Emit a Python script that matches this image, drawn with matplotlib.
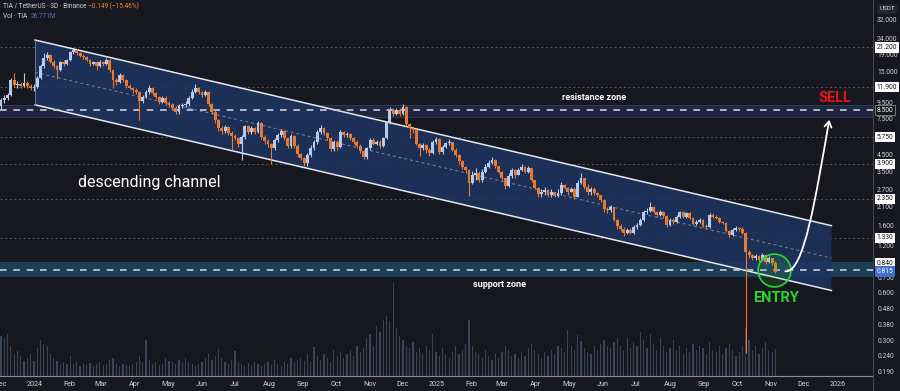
import numpy as np
import pandas as pd
import matplotlib
matplotlib.use("Agg")
import matplotlib.pyplot as plt
import matplotlib.dates as mdates
from matplotlib.path import Path
from matplotlib.patches import Polygon, FancyArrowPatch
from matplotlib.ticker import FixedLocator, NullLocator, FuncFormatter
from matplotlib.transforms import blended_transform_factory

plt.rcParams['font.family'] = ['Roboto', 'DejaVu Sans']

# --- 3D candles TIA/USDT ---
first_open = 9.0
closes = [
    9.90, 10.19, 10.63, 13.20, 12.30, 12.48, 12.12, 12.66, 12.12, 11.78,
    11.95, 13.59, 16.16, 18.10, 19.00, 17.15, 16.16, 15.30, 17.15, 16.65,
    17.65, 19.84, 20.40, 19.55, 18.73, 18.46, 17.65, 16.65, 17.15, 16.16,
    17.15, 16.65, 17.65, 15.30, 13.20, 12.82, 14.20, 13.20, 12.12, 11.78,
    11.40, 11.08, 9.76, 10.33, 11.08, 11.78, 10.92, 10.33, 9.62, 10.19,
    9.48, 9.20, 8.80, 8.30, 9.07, 9.20, 9.34, 10.19, 11.08, 11.78,
    11.08, 10.63, 11.08, 9.34, 8.30, 7.39, 6.58, 6.30, 6.68, 6.12,
    5.85, 5.69, 5.22, 5.77, 6.78, 6.21, 6.58, 6.21, 7.07, 5.77,
    5.45, 5.22, 4.92, 5.53, 5.94, 6.30, 5.69, 5.07, 5.85, 5.07,
    4.51, 4.25, 3.96, 4.45, 4.92, 5.37, 6.21, 6.58, 6.12, 5.69,
    4.85, 5.37, 4.99, 6.21, 5.94, 6.03, 5.69, 5.37, 5.07, 4.71,
    4.32, 4.92, 5.53, 5.22, 5.37, 5.07, 5.69, 7.18, 8.54, 8.07,
    8.54, 8.07, 8.93, 6.97, 6.58, 6.39, 5.22, 4.92, 5.14, 4.78,
    4.58, 5.37, 5.61, 4.64, 4.99, 5.29, 5.37, 4.78, 4.45, 4.07,
    3.74, 3.58, 2.97, 3.33, 3.43, 3.09, 3.48, 3.74, 3.96, 4.13,
    3.79, 3.48, 3.18, 2.84, 3.28, 3.58, 3.33, 3.58, 3.74, 3.48,
    3.69, 3.09, 2.76, 2.53, 2.60, 2.68, 2.49, 2.60, 2.46, 2.56,
    2.88, 2.76, 2.60, 2.72, 2.42, 2.97, 3.18, 2.80, 2.60, 2.72,
    2.56, 2.49, 2.31, 2.03, 2.00, 2.09, 1.73, 1.58, 1.52, 1.43,
    1.50, 1.43, 1.56, 1.61, 1.73, 1.94, 1.97, 2.09, 1.94, 1.86,
    1.94, 1.83, 1.61, 1.73, 1.68, 1.81, 1.94, 1.81, 1.91, 1.78,
    1.63, 1.68, 1.73, 1.58, 1.56, 1.86, 1.81, 1.78, 1.68, 1.66,
    1.48, 1.39, 1.50, 1.54, 1.52, 1.43, 1.09, 1.04, 0.995, 1.025,
    0.97, 1.04, 0.94, 0.995, 0.93, 0.815,
]
highs = [
    10.2, 10.6, 11.0, 13.6, 14.6, 13.0, 12.9, 14.6, 13.0, 12.5,
    12.4, 14.0, 16.6, 19.4, 19.8, 19.3, 17.6, 16.5, 17.5, 17.6,
    18.0, 20.2, 20.9, 20.7, 19.9, 19.2, 18.8, 18.0, 17.5, 17.4,
    17.6, 17.4, 18.2, 18.0, 15.5, 13.6, 14.6, 14.5, 13.4, 12.4,
    12.0, 11.7, 11.3, 10.6, 11.4, 12.2, 12.0, 11.1, 10.5, 10.5,
    10.4, 9.7, 9.4, 9.0, 9.3, 9.5, 9.7, 10.5, 11.5, 12.4,
    12.0, 11.3, 11.4, 11.2, 9.5, 8.5, 7.5, 6.8, 6.9, 6.8,
    6.3, 6.0, 5.8, 5.9, 6.9, 6.9, 6.8, 6.7, 7.3, 7.2,
    5.9, 5.6, 5.3, 5.7, 6.1, 6.5, 6.4, 5.8, 6.0, 5.9,
    5.2, 4.6, 4.3, 4.6, 5.1, 5.5, 6.4, 6.9, 6.7, 6.2,
    5.8, 5.5, 5.5, 6.4, 6.3, 6.2, 6.1, 5.8, 5.5, 5.2,
    4.8, 5.0, 5.7, 5.7, 5.5, 5.5, 5.8, 7.3, 8.9, 8.8,
    8.8, 8.8, 9.3, 9.0, 7.1, 6.7, 6.5, 5.3, 5.3, 5.2,
    4.9, 5.5, 5.8, 5.7, 5.1, 5.4, 5.6, 5.4, 4.9, 4.5,
    4.1, 3.8, 3.6, 3.5, 3.7, 3.5, 3.6, 3.9, 4.1, 4.3,
    4.2, 3.8, 3.5, 3.2, 3.4, 3.7, 3.6, 3.7, 3.9, 3.8,
    3.8, 3.7, 3.1, 2.8, 2.7, 2.8, 2.7, 2.7, 2.6, 2.7,
    3.0, 2.9, 2.8, 2.8, 2.8, 3.1, 3.4, 3.2, 2.9, 2.8,
    2.8, 2.6, 2.5, 2.35, 2.1, 2.15, 2.1, 1.75, 1.62, 1.56,
    1.54, 1.53, 1.60, 1.66, 1.78, 2.0, 2.05, 2.25, 2.12, 1.98,
    2.0, 1.97, 1.85, 1.77, 1.78, 1.85, 1.98, 1.96, 1.95, 1.93,
    1.80, 1.72, 1.77, 1.75, 1.62, 1.90, 1.90, 1.85, 1.80, 1.71,
    1.68, 1.50, 1.53, 1.58, 1.57, 1.55, 1.45, 1.12, 1.06, 1.05,
    1.04, 1.07, 1.05, 1.02, 1.00, 0.95,
]
lows = [
    8.6, 9.5, 9.9, 10.4, 11.9, 11.8, 11.7, 11.9, 11.8, 11.4,
    11.3, 11.7, 13.3, 15.8, 17.6, 16.8, 15.6, 13.3, 15.0, 16.2,
    16.3, 17.4, 19.3, 19.1, 18.4, 18.0, 17.3, 16.2, 16.3, 15.3,
    15.9, 16.2, 16.4, 14.8, 11.7, 12.3, 12.6, 12.9, 11.8, 11.5,
    11.0, 10.7, 7.4, 9.4, 10.1, 10.8, 10.6, 10.0, 9.3, 9.4,
    9.2, 8.9, 8.5, 8.0, 8.1, 8.8, 8.9, 9.1, 10.0, 10.9,
    10.8, 10.3, 10.4, 9.1, 8.0, 7.1, 6.3, 6.0, 6.1, 5.9,
    4.8, 5.5, 5.0, 4.1, 5.6, 6.0, 6.0, 6.0, 6.1, 5.6,
    5.2, 5.0, 3.9, 4.8, 5.4, 5.8, 5.5, 4.9, 4.9, 4.9,
    4.3, 4.1, 3.8, 3.8, 4.3, 4.8, 5.2, 6.0, 5.9, 5.5,
    4.7, 4.7, 4.8, 4.9, 5.8, 5.8, 5.5, 5.2, 4.9, 4.6,
    4.2, 4.2, 4.8, 5.1, 5.1, 4.9, 5.0, 5.6, 7.0, 7.8,
    7.9, 7.8, 7.9, 6.8, 5.7, 6.1, 5.1, 4.4, 4.8, 4.6,
    4.4, 4.5, 5.2, 4.5, 4.5, 4.9, 5.1, 4.7, 4.3, 3.9,
    3.6, 3.4, 2.45, 2.9, 3.1, 3.0, 3.0, 3.4, 3.7, 3.9,
    3.7, 3.4, 3.1, 2.7, 2.8, 3.2, 3.2, 3.3, 3.5, 3.4,
    3.4, 3.0, 2.7, 2.4, 2.4, 2.5, 2.4, 2.4, 2.4, 2.4,
    2.5, 2.7, 2.5, 2.6, 2.35, 2.4, 2.9, 2.7, 2.5, 2.5,
    2.5, 2.4, 2.25, 1.95, 1.9, 1.95, 1.7, 1.52, 1.47, 1.36,
    1.40, 1.40, 1.41, 1.52, 1.58, 1.70, 1.88, 1.93, 1.90, 1.80,
    1.82, 1.78, 1.57, 1.58, 1.64, 1.65, 1.78, 1.77, 1.78, 1.74,
    1.60, 1.60, 1.65, 1.55, 1.52, 1.54, 1.77, 1.74, 1.65, 1.62,
    1.45, 1.35, 1.37, 1.47, 1.48, 1.41, 0.25, 0.99, 0.96, 0.97,
    0.94, 0.95, 0.91, 0.92, 0.90, 0.80,
]
volumes = [
    40, 38, 42, 30, 22, 25, 20, 15, 18, 22, 15,
    28, 36, 32, 30, 22, 18, 15, 12, 14, 12, 20,
    12, 14, 10, 12, 11, 13, 10, 12, 14, 11, 12, 16, 18, 12, 10, 12, 11, 10, 12, 14, 20,
    14, 36, 16, 12, 14, 11, 12, 18, 15, 14, 12, 16, 14, 18, 14, 12, 10, 12,
    14, 18, 22, 16, 20, 27, 18, 14, 12, 16, 25, 14, 12, 10, 13, 11, 14, 12, 10, 12,
    14, 11, 16, 12, 10, 14, 12, 18, 14, 16,
    18, 15, 22, 14, 29, 20, 16, 22, 18, 14, 26, 20, 24, 18, 22, 26, 20, 30, 24, 28,
    38, 42, 30, 50, 44, 56, 60, 55, 93, 48, 40,
    36, 30, 28, 34, 24, 28, 22, 30, 26, 42, 24, 20, 28, 22, 18, 24, 30, 22, 26, 32, 56,
    30, 24, 22, 18, 26, 20, 16, 22, 18, 24, 30, 26, 20, 22, 18, 24, 20, 28, 32, 26,
    22, 18, 24, 20, 26, 22, 30,
    28, 24, 46, 30, 26, 41, 35, 28, 24, 22, 30, 26, 32, 36, 30, 28, 34, 38,
    30, 26, 38, 28, 34, 30, 44, 36, 28, 42, 32, 26, 38, 30, 24, 28, 36, 26, 30, 22,
    28, 24, 32, 26, 30,
    28, 22, 34, 26, 24, 30, 22, 28, 32, 26, 20, 24, 30, 48, 36, 26, 30, 22, 28, 34,
    26, 24, 26.8,
]

# levels drawn on the chart
level_lines = [21.2, 11.9, 5.75, 3.9, 2.35, 1.33]
resistance = (7.72, 9.19, 8.5)
support = (0.757, 0.94, 0.84)
last_price = 0.815
price_ticks = [32, 24, 19, 15, 9.5, 7.5, 4.5, 3.5, 2.7, 2.1, 1.6, 1.2,
               0.75, 0.6, 0.48, 0.38, 0.3, 0.24, 0.19]

# descending channel anchors
ch_dates = ["2024-01-01", "2025-12-26"]
ch_upper = [23.6, 1.59]
ch_lower = [9.2, 0.62]

BG = "#17171f"
BULL = "#b4cbee"
BEAR = "#e8792e"
TXT = "#cfd2dc"

dates = pd.date_range("2023-12-01", periods=len(closes), freq="3D")
x = mdates.date2num(dates)
c = np.array(closes)
o = np.array([first_open] + closes[:-1])
h = np.array(highs)
l = np.array(lows)
up = c >= o
cols = np.where(up, BULL, BEAR)

fig = plt.figure(figsize=(9, 3.91), dpi=100, facecolor=BG)
pos = [0, 15 / 391, 873 / 900, 376 / 391]
ax = fig.add_axes(pos)
vax = fig.add_axes(pos, sharex=ax)
vax.set_zorder(0)
ax.set_zorder(1)
vax.set_facecolor(BG)
ax.set_facecolor("none")

# volume
vax.bar(x, volumes, width=1.1, color="#4a5a74", alpha=0.7, linewidth=0)
vax.set_ylim(0, max(volumes) * 4.05)
vax.axis("off")

ax.set_yscale("log")
x0 = mdates.date2num(pd.Timestamp("2024-01-01"))
ax.set_xlim(x0 - 31.9, x0 + 762.8)
ax.set_ylim(0.179, 42.2)

# zones
ax.axhspan(resistance[0], resistance[1], color="#1f2a44", alpha=0.8, lw=0, zorder=1)
for v in resistance[:2]:
    ax.axhline(v, color="#34405c", lw=0.6, zorder=1)
ax.axhspan(support[0], support[1], color="#1b4a66", alpha=0.8, lw=0, zorder=1)
ax.axhline(resistance[2], color="#c9ccd6", lw=1.2, ls=(0, (4, 4)), zorder=5)
ax.axhline(support[2], color="#c9ccd6", lw=1.2, ls=(0, (4, 4)), zorder=5)
for v in level_lines:
    ax.axhline(v, color="#5e6070", lw=0.6, ls=(0, (2.5, 3)), zorder=1)

# channel
cx = mdates.date2num(pd.to_datetime(ch_dates))
poly = Polygon([(cx[0], ch_upper[0]), (cx[1], ch_upper[1]),
                (cx[1], ch_lower[1]), (cx[0], ch_lower[0])],
               closed=True, fc="#1d3460", ec="none", alpha=0.85, zorder=2)
ax.add_patch(poly)
ax.plot(cx, ch_upper, color="#e6e8ee", lw=1.1, zorder=4)
ax.plot(cx, ch_lower, color="#e6e8ee", lw=1.1, zorder=4)
ax.plot([cx[0], cx[0]], [ch_lower[0], ch_upper[0]], color="#7d8598", lw=0.6, zorder=4)
mid = np.sqrt(np.array(ch_upper) * np.array(ch_lower))
ax.plot(cx, mid, color="#7d8598", lw=0.7, ls=(0, (3, 3)), zorder=4)

# candles
ax.vlines(x, l, h, colors=cols, lw=0.8, zorder=6)
body_lo = np.minimum(o, c)
body_h = np.maximum(np.abs(c - o), c * 0.008)
ax.bar(x, body_h, bottom=body_lo, width=2.6, color=cols, lw=0, zorder=7)

# axes styling
for s in ["top", "left"]:
    ax.spines[s].set_visible(False)
ax.spines["right"].set_color("#44444e")
ax.spines["bottom"].set_color("#8a8a94")
ax.spines["bottom"].set_linewidth(0.8)
ax.yaxis.tick_right()
ax.yaxis.set_major_locator(FixedLocator(price_ticks))
ax.yaxis.set_minor_locator(NullLocator())
ax.yaxis.set_major_formatter(FuncFormatter(lambda v, p: f"{v:.3f}"))
ax.tick_params(axis="y", length=0, pad=3, labelsize=4.9, labelcolor=TXT)

months = pd.date_range("2023-12-01", "2026-01-01", freq="MS")
mlabels = [str(d.year) if d.month == 1 else d.strftime("%b") for d in months]
ax.set_xticks(mdates.date2num(months))
ax.set_xticklabels(mlabels)
ax.tick_params(axis="x", length=0, pad=3.5, labelsize=5.2, labelcolor=TXT)
fig.add_artist(plt.Line2D([873 / 900, 873 / 900], [0, 15 / 391], color="#44444e", lw=0.8))

# price tags on the right scale
bt = blended_transform_factory(ax.transAxes, ax.transData)
white_tags = [21.2, 11.9, 5.75, 3.9, 2.35, 1.33, 0.84]
for v in white_tags:
    dy = 4.3 if v == 0.84 else 0
    ax.annotate(f"{v:.3f}", xy=(1, v), xycoords=bt, xytext=(2.5, dy),
                textcoords="offset points", ha="left", va="center",
                fontsize=4.9, color="#111111", annotation_clip=False,
                bbox=dict(boxstyle="square,pad=0.25", fc="white", ec="none"))
ax.annotate(f"{resistance[2]:.3f}", xy=(1, resistance[2]), xycoords=bt, xytext=(2.5, 0),
            textcoords="offset points", ha="left", va="center", fontsize=4.9,
            color="white", annotation_clip=False,
            bbox=dict(boxstyle="square,pad=0.25", fc="#16161e", ec="#9aa0b0", lw=0.5))
ax.annotate(f"{last_price:.3f}", xy=(1, last_price), xycoords=bt, xytext=(2.5, 0),
            textcoords="offset points", ha="left", va="center", fontsize=4.9,
            color="white", annotation_clip=False,
            bbox=dict(boxstyle="square,pad=0.25", fc="#3f6fd0", ec="none"))
fig.text(887 / 900, 1 - 9 / 391, "USDT", ha="center", va="center", fontsize=4.6,
         color=TXT, bbox=dict(boxstyle="round,pad=0.35", fc="#26262e", ec="none"))

# header
fig.text(3 / 900, 1 - 6 / 391, "TIA / TetherUS · 3D · Binance", fontsize=4.7,
         color=TXT, va="center")
fig.text(88 / 900, 1 - 6 / 391, "−0.149 (−15.46%)", fontsize=4.7, color="#f0862f", va="center")
fig.text(3 / 900, 1 - 16 / 391, "Vol · TIA", fontsize=4.7, color=TXT, va="center")
fig.text(31 / 900, 1 - 16 / 391, "26.771M", fontsize=4.7, color="#4d78c8", va="center")

# annotations
def d(s):
    return mdates.date2num(pd.Timestamp(s))

ax.text(d("2025-05-24"), 10.3, "resistance zone", color="white", fontsize=6.5,
        weight="bold", ha="center", va="center", zorder=9)
ax.text(d("2025-02-27"), 0.674, "support zone", color="white", fontsize=6.5,
        weight="bold", ha="center", va="center", zorder=9)
ax.text(d("2024-04-14"), 2.96, "descending channel", color="white", fontsize=11.5,
        ha="center", va="center", zorder=9)
ax.text(d("2025-12-29"), 10.15, "SELL", color="#e8141a", fontsize=10.5,
        weight="bold", ha="center", va="center", zorder=9)
ax.text(d("2025-11-06"), 0.558, "ENTRY", color="#2bd62b", fontsize=10.5,
        weight="bold", ha="center", va="center", zorder=9)
ax.scatter([d("2025-11-04")], [0.84], s=560, facecolor=(0.2, 0.85, 0.2, 0.15),
           edgecolor="#2fd52f", lw=1.2, zorder=8)

# curved arrow from entry to target
arrow_path = Path([(d("2025-11-14"), 0.82), (d("2025-12-01"), 0.79),
                   (d("2025-12-12"), 2.5), (d("2025-12-24"), 7.4)],
                  [Path.MOVETO, Path.CURVE4, Path.CURVE4, Path.CURVE4])
ax.add_patch(FancyArrowPatch(path=arrow_path, arrowstyle="->,head_length=4,head_width=2.5",
                             color="white", lw=1.3, zorder=9))

fig.savefig("out.png", dpi=100, facecolor=BG)
